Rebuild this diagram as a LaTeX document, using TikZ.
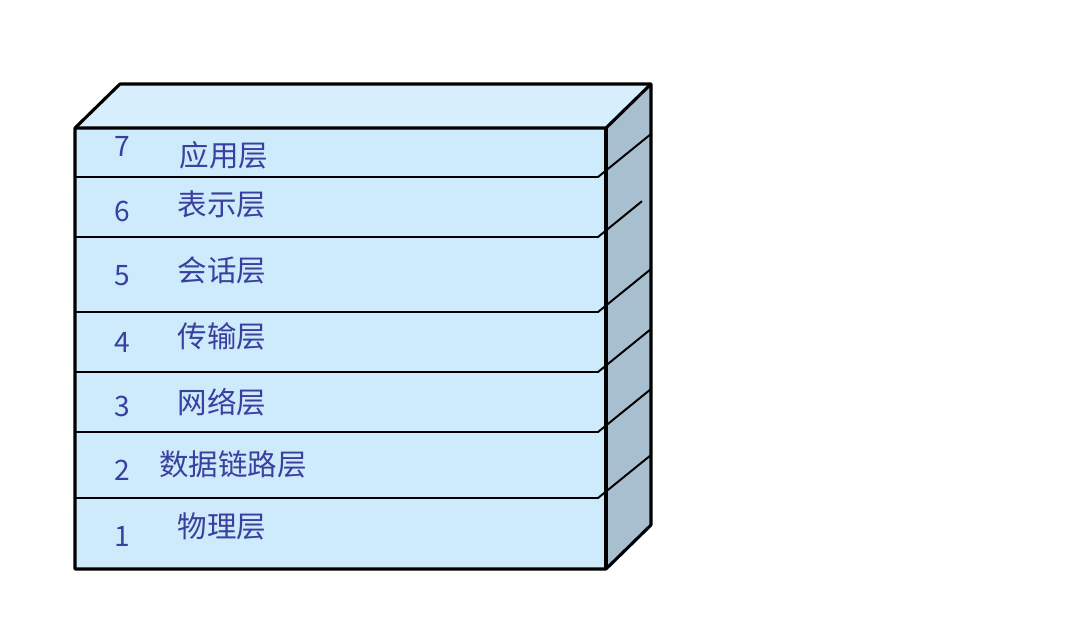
\documentclass[tikz,border=0pt]{standalone}
\usepackage{fontspec}
\setmainfont{Noto Sans CJK SC}
\usepackage{tikz}
\usetikzlibrary{calc}
\definecolor{bg}{HTML}{FFFFFF}
\definecolor{frontbg}{HTML}{CDEBFB}
\definecolor{topbg}{HTML}{D7EFFC}
\definecolor{sidebg}{HTML}{A7BFCF}
\definecolor{edge}{HTML}{000000}
\definecolor{label}{HTML}{3A3FA0}
\tikzset{
  layername/.style={text=label, font=\fontsize{21}{24}\selectfont, inner sep=0pt},
  layernum/.style={text=label, font=\fontsize{20}{24}\selectfont, inner sep=0pt},
}

\begin{document}
\begin{tikzpicture}[x=0.025cm, y=-0.025cm]
\useasboundingbox[fill=bg] (0,0) rectangle (1080,642);
% box faces
\fill[topbg] (75,128) -- (120,84) -- (651,84) -- (606,128) -- cycle;
\fill[sidebg] (606,128) -- (651,84) -- (651,525) -- (606,569) -- cycle;
\fill[frontbg] (75,128) rectangle (606,569);
% layer dividers
\foreach \y/\dx in {177/45, 237/36, 312/45, 372/45, 432/45, 498/45}{
  \draw[color=edge, line width=1.4pt] (75,\y) -- (598,\y) -- ($(606,\y-7)+(\dx,-0.8*\dx)$);
}
% outline
\draw[color=edge, line width=2.2pt, line join=round]
  (75,128) -- (120,84) -- (651,84) -- (651,525) -- (606,569) -- (75,569) -- cycle;
\draw[color=edge, line width=2.2pt] (75,128) -- (606,128) -- (651,84);
\draw[color=edge, line width=2.2pt] (606,128) -- (606,569);
% labels
\foreach \n/\name/\ny/\y/\x in {7/应用层/146/155/224, 6/表示层/211/204/222, 5/会话层/276/270/222,
  4/传输层/342/336/222, 3/网络层/406/402/222, 2/数据链路层/470/464/233, 1/物理层/536/526/222}{
  \node[layernum] (num\n) at (122,\ny) {\n};
  \node[layername] (name\n) at (\x,\y) {\name};
}
\end{tikzpicture}
\end{document}
